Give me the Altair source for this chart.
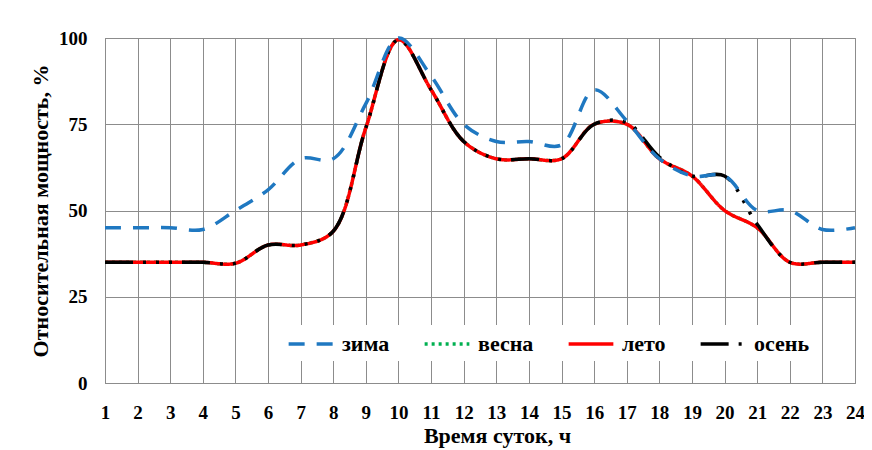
import altair as alt
import pandas as pd

hours = list(range(1, 25))
seasons = ["зима", "весна", "лето", "осень"]
winter = [45, 45, 45, 44.5, 50, 56, 65, 65, 81, 100, 89, 75, 70, 70, 69, 85, 76, 65, 60, 60, 50, 50, 44.5, 45]
spring = [35, 35, 35, 35, 34.7, 40, 40, 44, 74, 99.5, 85, 70, 65, 65, 65, 75, 75, 65, 60, 50, 45, 35, 35, 35]
summer = [35, 35, 35, 35, 34.7, 40, 40, 44, 74, 99.5, 85, 70, 65, 65, 65, 75, 75, 65, 60, 50, 45, 35, 35, 35]
autumn = [35, 35, 35, 35, 34.7, 40, 40, 44, 74, 99.5, 85, 70, 65, 65, 65, 75, 75.5, 65.5, 60, 60, 46, 35, 35, 35]
y_ticks = [0, 25, 50, 75, 100]

colors = ["#1f78c1", "#00b050", "#ff0000", "#000000"]
dashes = [[16, 12], [3, 4], [1, 0], [28, 10, 3, 10, 3, 10, 3, 10]]

rows = []
for name, vals in zip(seasons, [winter, spring, summer, autumn]):
    for h, v in zip(hours, vals):
        rows.append({"hour": h, "value": v, "season": name})
df = pd.DataFrame(rows)

FONT = "Liberation Serif"

base = alt.Chart(df).mark_line(interpolate="catmull-rom", strokeWidth=3.5).encode(
    x=alt.X("hour:Q",
            scale=alt.Scale(domain=[1, 24], nice=False, zero=False),
            axis=alt.Axis(values=hours, format="d", title="Время суток, ч",
                          ticks=False, labelPadding=20, titlePadding=3,
                          labelFlush=False, labelOverlap=False, titleX=392)),
    y=alt.Y("value:Q",
            scale=alt.Scale(domain=[0, 100], nice=False),
            axis=alt.Axis(values=y_ticks, title="Относительная мощность, %",
                          ticks=False, labelPadding=18, titlePadding=6)),
    color=alt.Color("season:N", scale=alt.Scale(domain=seasons, range=colors), title=None),
    strokeDash=alt.StrokeDash("season:N", scale=alt.Scale(domain=seasons, range=dashes), title=None),
)

layers = [base.transform_filter(alt.datum.season == s) for s in ["весна", "лето", "осень", "зима"]]

chart = alt.layer(*layers).properties(
    width=750, height=345,
    autosize=alt.AutoSizeParams(type="none"),
    padding={"left": 97, "top": 30, "right": 9, "bottom": 67},
).configure_view(
    stroke="#8c8c8c", strokeWidth=1
).configure_axis(
    grid=True, gridColor="#8c8c8c", gridWidth=1, gridOpacity=1,
    domainColor="#8c8c8c", domainWidth=1,
    labelFont=FONT, labelFontSize=19, labelFontWeight="bold", labelColor="black",
    titleFont=FONT, titleFontSize=22, titleFontWeight="bold", titleColor="black",
).configure_legend(
    orient="none", legendX=176, legendY=287, direction="horizontal", columns=4,
    fillColor="white", padding=6, symbolType="M-2,0H2", symbolSize=500,
    symbolOffset=11, symbolStrokeWidth=3.5, symbolFillColor="transparent",
    labelFont=FONT, labelFontSize=22, labelFontWeight="bold",
    labelColor="black", labelOffset=18, columnPadding=27, labelLimit=200,
)

chart.save("out.html", embed_options={"renderer": "svg", "actions": False})
